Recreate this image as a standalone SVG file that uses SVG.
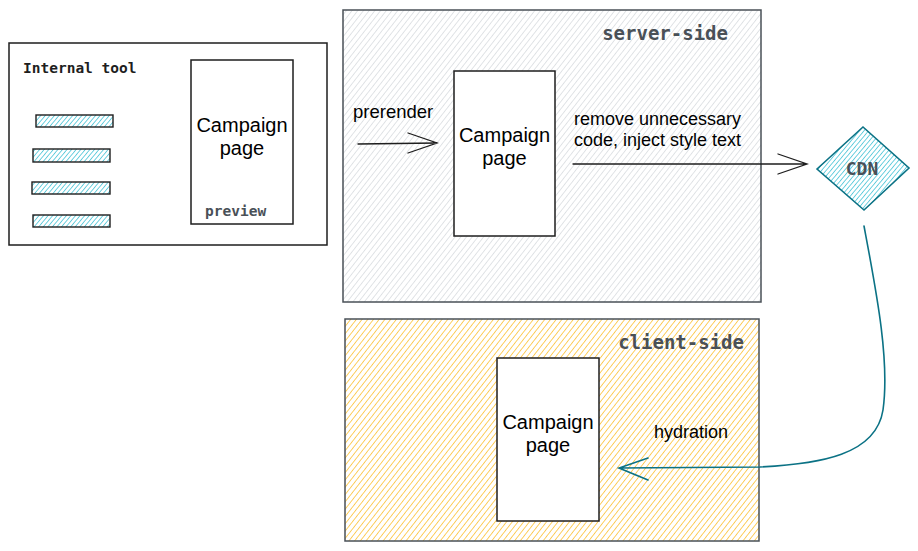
<svg xmlns="http://www.w3.org/2000/svg" width="918" height="551" viewBox="0 0 918 551">
<style>
.sans{font-family:"Liberation Sans",Arial,sans-serif;fill:#000}
.mono{font-family:"DejaVu Sans Mono","Liberation Mono",monospace;font-weight:bold}
.page{fill:#fff;stroke:#1e1e1e;stroke-width:1.5}
.edge{fill:none;stroke:#1e1e1e;stroke-width:1.3;stroke-linecap:round}
.teal{fill:none;stroke:#0b7285;stroke-width:1.6;stroke-linecap:round}
</style>
<defs>
<pattern id="hGray" width="4.5" height="5" patternUnits="userSpaceOnUse" patternTransform="rotate(38)">
<line x1="0" y1="0" x2="0" y2="5" stroke="#c8cdd2" stroke-width="1.1"/>
</pattern>
<pattern id="hYellow" width="4.5" height="5" patternUnits="userSpaceOnUse" patternTransform="rotate(38)">
<line x1="0" y1="0" x2="0" y2="5" stroke="#fcc02e" stroke-width="1.5"/>
</pattern>
<pattern id="hCyan" width="3.5" height="4" patternUnits="userSpaceOnUse" patternTransform="rotate(40)">
<line x1="0" y1="0" x2="0" y2="4" stroke="#22b8cf" stroke-width="1.3"/>
</pattern>
</defs>
<rect width="918" height="551" fill="#fff"/>

<g id="internal-tool">
<rect x="9" y="43" width="318" height="202" fill="#fff" stroke="#1e1e1e" stroke-width="1.5"/>
<text class="mono" x="23" y="73" font-size="14.5" fill="#1e1e1e">Internal tool</text>
<rect x="36" y="115" width="77" height="12" fill="url(#hCyan)" stroke="#1e1e1e" stroke-width="1.4"/>
<rect x="33" y="149" width="77" height="13" fill="url(#hCyan)" stroke="#1e1e1e" stroke-width="1.4"/>
<rect x="32" y="182" width="78" height="12" fill="url(#hCyan)" stroke="#1e1e1e" stroke-width="1.4"/>
<rect x="33" y="215" width="77" height="12" fill="url(#hCyan)" stroke="#1e1e1e" stroke-width="1.4"/>
</g>

<g id="preview-page">
<rect class="page" x="191" y="60" width="102" height="164"/>
<text class="sans" x="242" y="132" font-size="20" text-anchor="middle">Campaign</text>
<text class="sans" x="242" y="155" font-size="20" text-anchor="middle">page</text>
<text class="mono" x="205" y="216" font-size="14.5" fill="#495057">preview</text>
</g>

<g id="server-side">
<rect x="343" y="10" width="418" height="292" fill="url(#hGray)" stroke="#495057" stroke-width="1.5"/>
<text class="mono" x="728" y="40" font-size="19" fill="#495057" text-anchor="end">server-side</text>
</g>

<g id="server-page">
<rect class="page" x="454" y="71" width="101" height="165"/>
<text class="sans" x="504.5" y="142" font-size="20" text-anchor="middle">Campaign</text>
<text class="sans" x="504.5" y="165" font-size="20" text-anchor="middle">page</text>
</g>

<g id="client-side">
<rect x="345" y="319" width="414" height="222" fill="url(#hYellow)" stroke="#495057" stroke-width="1.5"/>
<text class="mono" x="744" y="349" font-size="19" fill="#495057" text-anchor="end">client-side</text>
</g>

<g id="client-page">
<rect class="page" x="497" y="358" width="102" height="163"/>
<text class="sans" x="548" y="429" font-size="20" text-anchor="middle">Campaign</text>
<text class="sans" x="548" y="452" font-size="20" text-anchor="middle">page</text>
</g>

<g id="cdn">
<polygon points="817,169 863,127 909,168 864,210" fill="url(#hCyan)" stroke="#0b7285" stroke-width="1.6"/>
<text class="mono" x="862" y="175" font-size="18" fill="#495057" font-weight="normal" text-anchor="middle">CDN</text>
</g>

<g id="connectors">
<path class="edge" d="M358 144 L437 143 M408 133 L437 143 L408 153"/>
<text class="sans" x="353" y="118" font-size="18.5">prerender</text>
<path class="edge" d="M573 164 L807 164 M778 154 L807 164 L778 174"/>
<text class="sans" x="574" y="125" font-size="18">remove unnecessary</text>
<text class="sans" x="574" y="146" font-size="18">code, inject style text</text>
<path class="teal" d="M864 226 C 876 290, 890 360, 883 410 C 876 455, 820 464, 760 467 L 619 468 M648 458 L619 468 L648 480"/>
<text class="sans" x="654" y="438" font-size="18">hydration</text>
</g>
</svg>
